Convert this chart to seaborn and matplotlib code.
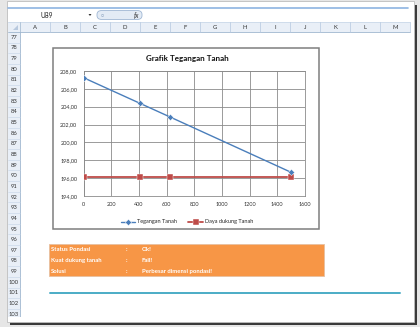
import matplotlib
matplotlib.use("Agg")
import matplotlib.pyplot as plt
import seaborn as sns
import pandas as pd
from matplotlib.patches import Rectangle, FancyBboxPatch, Polygon
from matplotlib.lines import Line2D
from matplotlib.ticker import FuncFormatter, FixedLocator

# ---------------- data ----------------
jarak = [0, 405, 625, 1500]
tegangan_tanah = [207.25, 204.4, 202.85, 196.65]
daya_dukung_tanah = [196.12, 196.12, 196.12, 196.12]
series_names = ["Tegangan Tanah", "Daya dukung Tanah"]
chart_title = "Grafik Tegangan Tanah"
y_ticks = [194, 196, 198, 200, 202, 204, 206, 208]
x_ticks = [0, 200, 400, 600, 800, 1000, 1200, 1400, 1600]
column_letters = ["A", "B", "C", "D", "E", "F", "G", "H", "I", "J", "K", "L", "M"]
row_numbers = list(range(77, 104))
status_labels = ["Status Pondasi", "Kuat dukung tanah", "Solusi"]
status_values = ["Ok!", "Fail!", "Perbesar dimensi pondasi!"]
name_box = "U89"

W, H = 420, 327
sns.set_theme(style="whitegrid")
plt.rcParams["font.family"] = ["Lato", "DejaVu Sans"]

fig = plt.figure(figsize=(W / 100, H / 100), dpi=100)
fig.patch.set_facecolor("#e6e6e6")


def rect(x0, y0, x1, y1, **kw):
    r = Rectangle((x0 / W, 1 - y1 / H), (x1 - x0) / W, (y1 - y0) / H,
                  transform=fig.transFigure, **kw)
    fig.add_artist(r)
    return r


def hline(x0, x1, y, **kw):
    fig.add_artist(Line2D([x0 / W, x1 / W], [1 - y / H, 1 - y / H],
                          transform=fig.transFigure, **kw))


def vline(x, y0, y1, **kw):
    fig.add_artist(Line2D([x / W, x / W], [1 - y0 / H, 1 - y1 / H],
                          transform=fig.transFigure, **kw))


def text(x, y, s, **kw):
    return fig.text(x / W, 1 - y / H, s, **kw)


# ---------------- sheet chrome ----------------
rect(412, 5, 417, 325, facecolor="#3a3a3a", edgecolor="none", zorder=-20)
rect(10, 320, 417, 325, facecolor="#3a3a3a", edgecolor="none", zorder=-20)
rect(7, 1, 414, 322, facecolor="white", edgecolor="#bdbdbd", linewidth=0.6, zorder=-19)

# formula bar
hline(8, 408, 8, color="#8db4e2", linewidth=1.2, zorder=-5)
text(47, 15, name_box, fontsize=4.8, color="#222222", ha="center", va="center")
fig.add_artist(Polygon([[88.5 / W, 1 - 14 / H], [91.5 / W, 1 - 14 / H], [90 / W, 1 - 16 / H]],
                       closed=True, transform=fig.transFigure, facecolor="#333333",
                       edgecolor="none"))
fig.add_artist(FancyBboxPatch((97 / W, 1 - 19.5 / H), 45 / W, 9 / H,
                              boxstyle="round,pad=0,rounding_size=0.012",
                              transform=fig.transFigure, facecolor="#e3ebf5",
                              edgecolor="#9fb6d3", linewidth=0.6, zorder=-5))
text(102, 14.5, "○", fontsize=3.5, color="#8aa0bd", ha="center", va="center")
text(136, 14.5, "fx", fontsize=5, style="italic", color="#333333", ha="center", va="center")

# column header row
rect(8, 22, 410, 32, facecolor="#e9eff7", edgecolor="none", zorder=-10)
hline(8, 410, 32, color="#9eb6ce", linewidth=0.6, zorder=-9)
hline(8, 410, 22, color="#c5d4e6", linewidth=0.5, zorder=-9)
vline(20, 22, 32, color="#9eb6ce", linewidth=0.5, zorder=-9)
for i, c in enumerate(column_letters):
    x_left = 20 + i * 30
    vline(x_left + 30, 22, 32, color="#b5c8df", linewidth=0.5, zorder=-9)
    text(x_left + 15, 27.3, c, fontsize=4.3, color="#333333", ha="center", va="center")
fig.add_artist(Polygon([[18 / W, 1 - 30 / H], [18 / W, 1 - 25 / H], [13 / W, 1 - 30 / H]],
                       closed=True, transform=fig.transFigure, facecolor="#b8c9de",
                       edgecolor="none"))

# row header column
row_h = 10.65
rect(8, 32, 20, 317, facecolor="#e9eff7", edgecolor="none", zorder=-10)
vline(20, 32, 317, color="#9eb6ce", linewidth=0.6, zorder=-9)
for i, r in enumerate(row_numbers):
    y_top = 32 + i * row_h
    hline(8, 20, y_top + row_h, color="#c5d4e6", linewidth=0.4, zorder=-9)
    if y_top + 5 < 318:
        text(14, y_top + row_h / 2, str(r), fontsize=4.2, color="#333333",
             ha="center", va="center")
rect(7.5, 317, 21, 321.5, facecolor="white", edgecolor="none", zorder=-8)

# ---------------- chart ----------------
rect(53, 47.5, 319, 229, facecolor="white", edgecolor="#7f7f7f", linewidth=1.1, zorder=-3)
text(187, 59, chart_title, fontsize=5.8, fontweight="bold", color="#111111",
     ha="center", va="center")

ax = fig.add_axes([83.5 / W, 1 - 196 / H, (305 - 83.5) / W, (196 - 71) / H])
ax.set_facecolor("white")

df_teg = pd.DataFrame({"Jarak": jarak, "Nilai": tegangan_tanah})
df_dd = pd.DataFrame({"Jarak": jarak, "Nilai": daya_dukung_tanah})

sns.lineplot(data=df_teg, x="Jarak", y="Nilai", ax=ax, color="#4a7ebb",
             marker="D", markersize=3.2, markeredgewidth=0.3, linewidth=1.0,
             label=series_names[0], zorder=4)
sns.lineplot(data=df_dd, x="Jarak", y="Nilai", ax=ax, color="#be4b48",
             marker="s", markersize=4.5, markeredgewidth=0.3, linewidth=1.3,
             label=series_names[1], zorder=3)

ax.set_xlim(x_ticks[0], x_ticks[-1])
ax.set_ylim(y_ticks[0], y_ticks[-1])
ax.xaxis.set_major_locator(FixedLocator(x_ticks))
ax.yaxis.set_major_locator(FixedLocator(y_ticks))
ax.yaxis.set_major_formatter(FuncFormatter(lambda v, p: f"{v:.2f}".replace(".", ",")))
ax.set_xlabel("")
ax.set_ylabel("")
ax.grid(True, color="#8a8a8a", linewidth=0.6)
for s in ax.spines.values():
    s.set_color("#8a8a8a")
    s.set_linewidth(0.6)
ax.tick_params(axis="both", labelsize=4.0, colors="#333333", length=0)
ax.tick_params(axis="y", pad=4.5)
ax.tick_params(axis="x", pad=4.0)

handles, labels = ax.get_legend_handles_labels()
ax.legend_.remove()
fig.legend(handles, labels, loc="center", bbox_to_anchor=(187 / W, 1 - 222 / H),
           ncol=2, frameon=False, fontsize=4.0, handlelength=2.6, handletextpad=0.4,
           columnspacing=2.0)

# ---------------- status box ----------------
rect(49, 244, 324, 276, facecolor="#f79646", edgecolor="#e8c0a0", linewidth=0.6, zorder=-3)
for i, (lab, val) in enumerate(zip(status_labels, status_values)):
    yc = 249.8 + i * 10.65
    text(51, yc, lab, fontsize=4.3, fontweight="bold", color="white", ha="left", va="center")
    text(126, yc, ":", fontsize=4.3, fontweight="bold", color="white", ha="center", va="center")
    text(142, yc, val, fontsize=4.3, fontweight="bold", color="white", ha="left", va="center")

hline(50, 400, 292.5, color="#4bacc6", linewidth=1.4, zorder=-2)

fig.savefig("out.png", dpi=100)
